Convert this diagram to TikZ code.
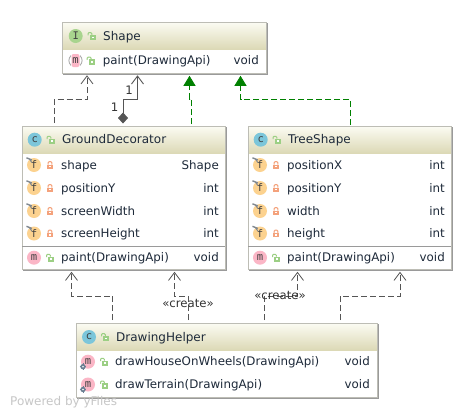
\documentclass[tikz,border=0pt]{standalone}
\usepackage{fontspec}
\setmainfont{DejaVu Sans}
\newfontfamily\iconfont{DejaVu Sans Mono}
\usetikzlibrary{arrows.meta,calc}
\definecolor{edgegray}{HTML}{555555}
\definecolor{boxline}{HTML}{BDBDB5}
\definecolor{boxshadow}{HTML}{9A9A9A}
\definecolor{txt}{HTML}{1E2A3A}
\definecolor{hdrtop}{HTML}{FBFBF2}
\definecolor{hdrbot}{HTML}{DCD9B6}
\definecolor{mpink}{HTML}{FBB6C6}
\definecolor{forange}{HTML}{FCD28F}
\definecolor{cblue}{HTML}{7CC6DA}
\definecolor{igreen}{HTML}{A8D48E}
\definecolor{lockg}{HTML}{9CCF84}
\definecolor{locko}{HTML}{F4A27C}
\definecolor{real}{HTML}{008000}
\definecolor{pingray}{HTML}{808890}
\definecolor{gearcol}{HTML}{6A7F92}
\tikzset{
  umlbox/.style={draw=boxline,fill=white,line width=0.8pt,inner sep=0pt,anchor=north west},
  titletext/.style={anchor=base west,yshift=-4pt,inner sep=0pt,text=txt,font=\fontsize{12}{14}\selectfont},
  membertext/.style={anchor=base west,yshift=-4pt,inner sep=0pt,text=txt,font=\fontsize{11.85}{14}\selectfont},
  typetext/.style={anchor=base east,yshift=-4pt,inner sep=0pt,text=txt,font=\fontsize{11.85}{14}\selectfont},
  icontext/.style={inner sep=0pt,text=black!75,font=\iconfont\fontsize{10.5}{11}\selectfont},
  labeltext/.style={anchor=base,inner sep=0pt,text=black!80,font=\fontsize{11.7}{14}\selectfont},
  dep/.style={draw=edgegray,line width=0.8pt,dash pattern=on 6pt off 3pt,-{Straight Barb[length=8pt,width=12pt]}},
  realize/.style={draw=real,line width=0.8pt,dash pattern=on 6pt off 3pt,-{Triangle[length=10pt,width=12pt,fill=real]}},
  compose/.style={draw=edgegray,line width=0.9pt,{Diamond[length=11pt,width=10pt,fill=edgegray]}-{Straight Barb[length=8pt,width=12pt]}},
}
\newcommand{\umlframe}[7]{%
  \node[umlbox,minimum width=#4pt,minimum height=#5pt] (#1) at (#2,#3) {};
  \shade[top color=hdrtop,bottom color=hdrbot] ([shift={(0.5,0.5)}]#1.north west) rectangle ([shift={(-0.5,#6)}]#1.north east);
  \draw[boxline,line width=0.8pt] (#1.north west) rectangle (#1.south east);
  \draw[boxshadow,line width=1.2pt] ([shift={(1,0.8)}]#1.south west) -- ([shift={(0.8,0.8)}]#1.south east) -- ([shift={(0.8,1)}]#1.north east);
  #7
}
\newcommand{\iconc}[5]{%
  \fill[#4] (#2,#3) circle[radius=7];
  \node[icontext] (#1) at (#2,#3) {#5};
}
\newcommand{\lockopen}[2]{%
  \fill[lockg] (#1-1.7,#2-1.2) rectangle (#1+4,#2+4.3);
  \draw[lockg,line width=1pt,rounded corners=1pt] (#1-3.5,#2-0.6) -- (#1-3.5,#2-3.4) -- (#1+0.3,#2-3.4) -- (#1+0.3,#2-1);
  \fill[white] (#1+0.4,#2+0.6) rectangle (#1+2.0,#2+2.4);
}
\newcommand{\lockclosed}[2]{%
  \fill[locko] (#1-3,#2-0.5) rectangle (#1+3,#2+3.8);
  \draw[locko,line width=1pt,rounded corners=1pt] (#1-1.8,#2-0.5) -- (#1-1.8,#2-3.4) -- (#1+1.8,#2-3.4) -- (#1+1.8,#2-0.5);
  \fill[white] (#1-0.8,#2+0.8) rectangle (#1+0.8,#2+2.4);
}
\newcommand{\pin}[2]{%
  \draw[pingray,line width=1.4pt] (#1-7.5,#2-7.2) -- (#1-2.2,#2-5);
  \draw[pingray,line width=1pt] (#1-4.5,#2-6) -- (#1-2.2,#2-2.5);
}
\newcommand{\gearmark}[2]{%
  \fill[gearcol] (#1-5,#2+5) circle[radius=2.7];
  \draw[gearcol,line width=0.9pt] (#1-8.3,#2+5) -- (#1-1.7,#2+5) (#1-5,#2+1.7) -- (#1-5,#2+8.3);
  \fill[white] (#1-5,#2+5) circle[radius=0.9];
}
\newcommand{\fieldrow}[6]{%
  \iconc{#1i}{#2}{#5}{forange}{f}
  \pin{#2}{#5}
  \lockclosed{#2+16}{#5}
  \node[membertext] (#1t) at (#2+27,#5) {#6};
  \node[typetext] (#1r) at (#3,#5) {#4};
}
\newcommand{\methodrow}[5]{%
  \iconc{#1i}{#2}{#4}{mpink}{m}
  \lockopen{#2+16}{#4}
  \node[membertext] (#1t) at (#2+27,#4) {#5};
  \node[typetext] (#1r) at (#3,#4) {void};
}
\begin{document}
\begin{tikzpicture}[x=1pt,y=-1pt]
\useasboundingbox (0,0) rectangle (472,418);
\fill[white] (0,0) rectangle (472,418);

% Shape
\umlframe{shape}{62}{22}{203.5}{50.5}{27}{}
\iconc{shapei}{75.7}{36}{igreen}{I}
\lockopen{91.5}{36}
\node[titletext] (shapet) at (103,36) {Shape};
\draw[gray!70,line width=0.8pt] (75.5,60.5) circle[radius=6.6];
\fill[white] (71,53) rectangle (80,68);
\fill[mpink,rounded corners=2pt] (71.5,54) rectangle (79.5,67);
\node[icontext] (spi) at (75.5,60.5) {m};
\lockopen{90.7}{60.5}
\node[membertext] (spt) at (102.7,60.5) {paint(DrawingApi)};
\node[typetext] (spr) at (259,60.5) {void};

% GroundDecorator
\umlframe{gd}{22}{126}{203}{143}{27}{\draw[boxshadow,line width=0.8pt] (22,246) -- (225,246);}
\iconc{gdi}{34.7}{139.7}{cblue}{c}
\lockopen{50.5}{139.7}
\node[titletext] (gdt) at (62,139.7) {GroundDecorator};
\fieldrow{g1}{34}{219}{Shape}{165}{shape}
\fieldrow{g2}{34}{219}{int}{188}{positionY}
\fieldrow{g3}{34}{219}{int}{211}{screenWidth}
\fieldrow{g4}{34}{219}{int}{233.5}{screenHeight}
\methodrow{gm}{34}{219}{257.7}{paint(DrawingApi)}

% TreeShape
\umlframe{ts}{248}{126}{203}{143}{27}{\draw[boxshadow,line width=0.8pt] (248,246) -- (451,246);}
\iconc{tsi}{260.7}{139.7}{cblue}{c}
\lockopen{276.5}{139.7}
\node[titletext] (tst) at (288,139.7) {TreeShape};
\fieldrow{t1}{260}{445}{int}{165}{positionX}
\fieldrow{t2}{260}{445}{int}{188}{positionY}
\fieldrow{t3}{260}{445}{int}{211}{width}
\fieldrow{t4}{260}{445}{int}{233.5}{height}
\methodrow{tm}{260}{445}{257.7}{paint(DrawingApi)}

% DrawingHelper
\umlframe{dh}{76}{323}{301}{74}{27}{}
\iconc{dhi}{89}{337}{cblue}{c}
\lockopen{105}{337}
\node[titletext] (dht) at (116,337) {DrawingHelper};
\methodrow{d1}{88}{370}{361.7}{drawHouseOnWheels(DrawingApi)}
\gearmark{88}{361.7}
\methodrow{d2}{88}{370}{384.5}{drawTerrain(DrawingApi)}
\gearmark{88}{384.5}

% connectors
\draw[dep] ([shift={(32.5,-3)}]gd.north west) -- ++(0,-24) -| ([shift={(25,2)}]shape.south west);
\draw[compose] ([shift={(101,-2.5)}]gd.north west) -- ++(0,-24.5) -| ([shift={(75.5,2)}]shape.south west);
\draw[realize] ([shift={(169.5,-2)}]gd.north west) -- ++(0,-25) -- ++(-2,0) -- ([shift={(127.5,2.5)}]shape.south west);
\draw[realize] ([shift={(102,-1)}]ts.north west) -- ++(0,-26) -| ([shift={(178.5,2.5)}]shape.south west);
\draw[dep] ([shift={(36.5,-3)}]dh.north west) -- ++(0,-24) -| ([shift={(49.5,2)}]gd.south west);
\draw[dep] ([shift={(112,-3)}]dh.north west) -- ++(0,-24) -| ([shift={(152.5,2)}]gd.south west);
\draw[dep] ([shift={(188.5,-3)}]dh.north west) -- ++(0,-24) -| ([shift={(49.5,2)}]ts.south west);
\draw[dep] ([shift={(264,-3)}]dh.north west) -- ++(0,-24) -| ([shift={(152,2)}]ts.south west);

% labels
\node[labeltext] (one1) at (129,94.7) {1};
\node[labeltext] (one2) at (114.7,111) {1};
\node[labeltext] (create1) at (188,307.7) {«create»};
\node[labeltext] (create2) at (280,299.7) {«create»};
\node[inner sep=0pt,text=black!22,font=\fontsize{12}{14}\selectfont,anchor=base west] (powered) at (10,405.5) {Powered by yFiles};
\end{tikzpicture}
\end{document}
